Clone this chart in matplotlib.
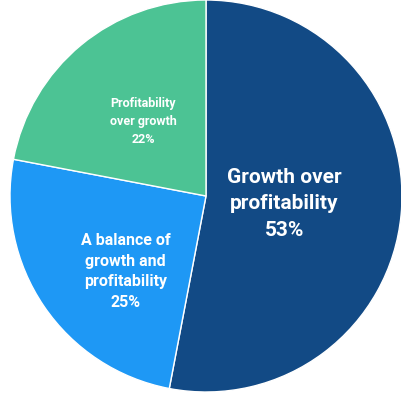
import matplotlib.pyplot as plt

labels = ["Growth over\nprofitability\n53%", "A balance of\ngrowth and\nprofitability\n25%", "Profitability\nover growth\n22%"]
values = [53, 25, 22]
colors = ["#124A85", "#1E98F5", "#4CC394"]

fig = plt.figure(figsize=(4.02, 3.94), dpi=100)
ax = fig.add_axes([0, 0, 1, 1])

wedges, _ = ax.pie(values, colors=colors, startangle=90, counterclock=False,
                   radius=1, wedgeprops=dict(edgecolor="white", linewidth=1))

font = ["Roboto", "DejaVu Sans"]
ax.text(0.40, -0.04, labels[0], ha="center", va="center", color="white",
        fontsize=15, fontweight="bold", family=font, linespacing=1.5)
ax.text(-0.41, -0.385, labels[1], ha="center", va="center", color="white",
        fontsize=11.5, fontweight="bold", family=font, linespacing=1.45)
ax.text(-0.32, 0.38, labels[2], ha="center", va="center", color="white",
        fontsize=9, fontweight="bold", family=font, linespacing=1.5)

ax.set_xlim(-206 / 196, 196 / 196)
ax.set_ylim(-198 / 196, 196 / 196)
ax.set_aspect("equal")
ax.axis("off")

fig.savefig("out.png", dpi=100)
